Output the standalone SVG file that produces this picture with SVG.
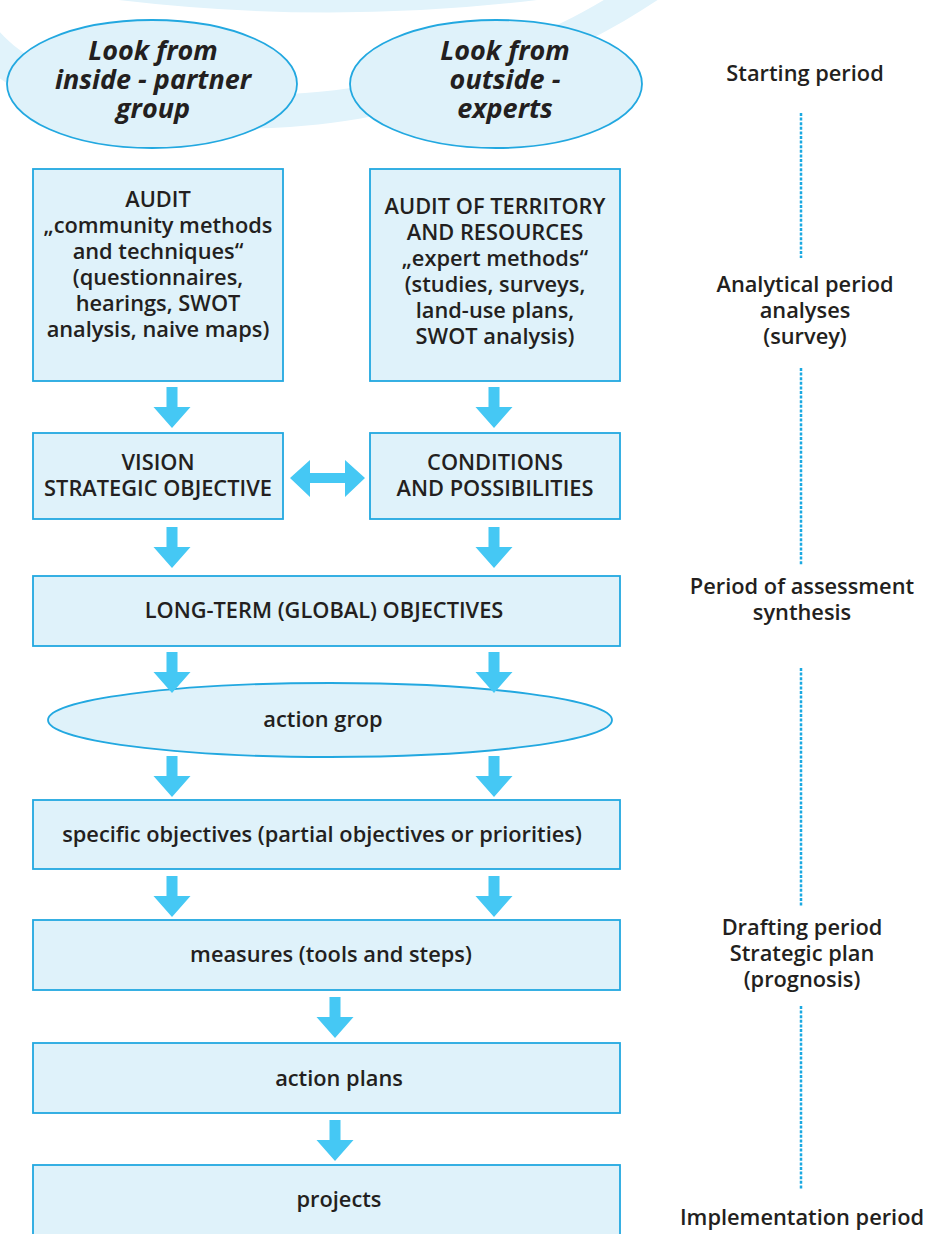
<svg xmlns="http://www.w3.org/2000/svg" width="933" height="1234" viewBox="0 0 933 1234">
<style>
.box{fill:#dff2fa;stroke:#22a8e0;stroke-width:1.8}
.t{font-family:"Open Sans","Noto Sans",sans-serif;font-weight:600;font-size:21.8px;fill:#231f20;text-anchor:middle}
.ti{font-family:"Open Sans","Noto Sans",sans-serif;font-weight:700;font-style:italic;font-size:27px;fill:#231f20;text-anchor:middle}
.lab{font-family:"Open Sans","Noto Sans",sans-serif;font-weight:600;font-size:21.8px;fill:#231f20;text-anchor:middle}
.arr{fill:#45c8f4}
.dot{stroke:#1ba9e1;stroke-width:2.5;stroke-dasharray:3 1.6;fill:none}
.band{fill:#e1f3fb}
</style>
<defs>
<path id="down" d="M -5.5,0 H 5.5 V 20 H 18.5 L 0,41 L -18.5,20 H -5.5 Z"/>
</defs>
<rect width="933" height="1234" fill="#ffffff"/>
<g id="background">
<path class="band" d="M 80,-5 Q 330,30 575,-5 Z"/>
<path class="band" d="M -10,20 C 40,90 150,100 290,94 C 420,88 540,40 612,-5 L 665,-5 C 570,60 430,118 290,127 C 150,136 30,110 -10,70 Z"/>
</g>
<g id="look-inside">
<ellipse class="box" cx="152" cy="84" rx="145" ry="64"/>
<text class="ti"><tspan x="153" y="60">Look from</tspan><tspan x="153" y="89">inside - partner</tspan><tspan x="153" y="118">group</tspan></text>
</g>
<g id="look-outside">
<ellipse class="box" cx="496" cy="84" rx="146" ry="64"/>
<text class="ti"><tspan x="505" y="60">Look from</tspan><tspan x="505" y="89">outside -</tspan><tspan x="505" y="118">experts</tspan></text>
</g>
<g id="audit-community">
<rect class="box" x="33" y="169" width="250" height="212"/>
<text class="t"><tspan x="158" y="207">AUDIT</tspan><tspan x="158" y="233">„community methods</tspan><tspan x="158" y="259">and techniques“</tspan><tspan x="158" y="285">(questionnaires,</tspan><tspan x="158" y="311">hearings, SWOT</tspan><tspan x="158" y="337">analysis, naive maps)</tspan></text>
</g>
<g id="audit-territory">
<rect class="box" x="370" y="169" width="250" height="212"/>
<text class="t"><tspan x="495" y="214">AUDIT OF TERRITORY</tspan><tspan x="495" y="240">AND RESOURCES</tspan><tspan x="495" y="266">„expert methods“</tspan><tspan x="495" y="292">(studies, surveys,</tspan><tspan x="495" y="318">land-use plans,</tspan><tspan x="495" y="344">SWOT analysis)</tspan></text>
</g>
<g id="vision">
<rect class="box" x="33" y="433" width="250" height="86"/>
<text class="t"><tspan x="158" y="470">VISION</tspan><tspan x="158" y="496">STRATEGIC OBJECTIVE</tspan></text>
</g>
<g id="conditions">
<rect class="box" x="370" y="433" width="250" height="86"/>
<text class="t"><tspan x="495" y="470">CONDITIONS</tspan><tspan x="495" y="496">AND POSSIBILITIES</tspan></text>
</g>
<g id="long-term">
<rect class="box" x="33" y="576" width="587" height="70"/>
<text class="t" x="324" y="618">LONG-TERM (GLOBAL) OBJECTIVES</text>
</g>
<g id="action-group">
<ellipse class="box" cx="330" cy="720" rx="282" ry="37"/>
<text class="t" x="323" y="727">action grop</text>
</g>
<g id="specific">
<rect class="box" x="33" y="800" width="587" height="69"/>
<text class="t" x="322" y="842">specific objectives (partial objectives or priorities)</text>
</g>
<g id="measures">
<rect class="box" x="33" y="920" width="587" height="70"/>
<text class="t" x="331" y="962">measures (tools and steps)</text>
</g>
<g id="action-plans">
<rect class="box" x="33" y="1043" width="587" height="70"/>
<text class="t" x="339" y="1086">action plans</text>
</g>
<g id="projects">
<rect class="box" x="33" y="1165" width="587" height="80"/>
<text class="t" x="339" y="1207">projects</text>
</g>
<g id="connectors">
<use href="#down" class="arr" x="172" y="387"/>
<use href="#down" class="arr" x="494" y="387"/>
<use href="#down" class="arr" x="172" y="527"/>
<use href="#down" class="arr" x="494" y="527"/>
<use href="#down" class="arr" x="172" y="652"/>
<use href="#down" class="arr" x="494" y="652"/>
<use href="#down" class="arr" x="172" y="756"/>
<use href="#down" class="arr" x="494" y="756"/>
<use href="#down" class="arr" x="172" y="876"/>
<use href="#down" class="arr" x="494" y="876"/>
<use href="#down" class="arr" x="335" y="997"/>
<use href="#down" class="arr" x="335" y="1120"/>
<path class="arr" d="M 290,478 L 310,460 V 473 H 345 V 460 L 365,478 L 345,497 V 483 H 310 V 497 Z"/>
</g>
<g id="periods">
<text class="lab" x="805" y="81">Starting period</text>
<line class="dot" x1="801" y1="113" x2="801" y2="258"/>
<text class="lab"><tspan x="805" y="292">Analytical period</tspan><tspan x="805" y="318">analyses</tspan><tspan x="805" y="344">(survey)</tspan></text>
<line class="dot" x1="801" y1="368" x2="801" y2="565"/>
<text class="lab"><tspan x="802" y="594">Period of assessment</tspan><tspan x="802" y="620">synthesis</tspan></text>
<line class="dot" x1="801" y1="668" x2="801" y2="907"/>
<text class="lab"><tspan x="802" y="935">Drafting period</tspan><tspan x="802" y="961">Strategic plan</tspan><tspan x="802" y="987">(prognosis)</tspan></text>
<line class="dot" x1="801" y1="1006" x2="801" y2="1190"/>
<text class="lab" x="802" y="1225">Implementation period</text>
</g>
</svg>
